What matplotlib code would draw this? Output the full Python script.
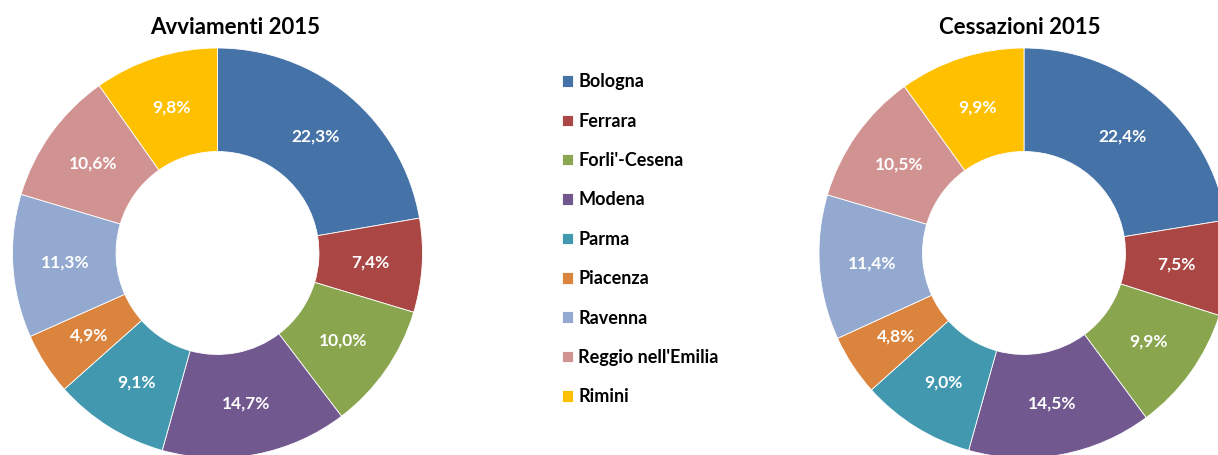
import matplotlib
matplotlib.use("Agg")
import matplotlib.pyplot as plt

plt.rcParams['font.family'] = ['Lato', 'DejaVu Sans']

categories = ["Bologna", "Ferrara", "Forli'-Cesena", "Modena", "Parma",
              "Piacenza", "Ravenna", "Reggio nell'Emilia", "Rimini"]
avviamenti = [22.3, 7.4, 10.0, 14.7, 9.1, 4.9, 11.3, 10.6, 9.8]
cessazioni = [22.4, 7.5, 9.9, 14.5, 9.0, 4.8, 11.4, 10.5, 9.9]
titles = ["Avviamenti 2015", "Cessazioni 2015"]
colors = ["#4572A7", "#AA4643", "#89A54E", "#71588F", "#4198AF",
          "#DB843D", "#93A9CF", "#D19392", "#FFC000"]

W, H = 1218, 455
fig = plt.figure(figsize=(W / 100, H / 100), dpi=100)
ax = fig.add_axes([0, 0, 1, 1])

R = 205
width = 0.505
centers = [(217.5, H - 253), (1024, H - 253)]
title_pos = [(235, H - 28), (1020, H - 28)]

wedges_first = None
for vals, c, t, tp in zip([avviamenti, cessazioni], centers, titles, title_pos):
    labels = [f"{v:.1f}%".replace(".", ",") for v in vals]
    wedges, texts = ax.pie(vals, labels=labels, colors=colors, startangle=90,
                           counterclock=False, center=c, radius=R,
                           labeldistance=0.745,
                           wedgeprops=dict(width=R * width, edgecolor='white', linewidth=0.6),
                           textprops=dict(color='white', fontsize=12.5, fontweight='bold'))
    for tx in texts:
        tx.set_ha('center')
        tx.set_va('center')
    if wedges_first is None:
        wedges_first = wedges
    ax.text(tp[0], tp[1], t, ha='center', va='center', fontsize=16, fontweight='bold')

ax.set_xlim(0, W)
ax.set_ylim(0, H)
ax.set_aspect('equal')
ax.axis('off')

leg = fig.legend(wedges_first, categories, loc='upper left',
                 bbox_to_anchor=(546 / W, 1 - 57 / H), frameon=False,
                 fontsize=13, handlelength=0.6, handleheight=0.6,
                 handletextpad=0.3, labelspacing=1.24)
for tx in leg.get_texts():
    tx.set_fontweight('bold')

fig.savefig("out.png", dpi=100)
